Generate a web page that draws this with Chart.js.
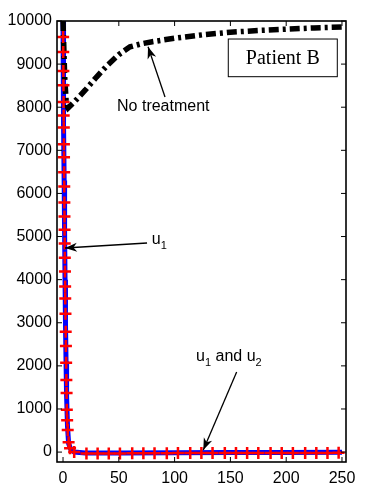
<!DOCTYPE html>
<html><head><meta charset="utf-8">
<script src="https://cdn.jsdelivr.net/npm/chart.js@4.4.0/dist/chart.umd.min.js"></script>
<style>html,body{margin:0;padding:0;background:#fff}canvas{display:block}</style>
</head><body>
<canvas id="c" width="370" height="500"></canvas>
<script>
// ---- data ----
const xTickVals = [0, 50, 100, 150, 200, 250];
const yTickVals = [0, 1000, 2000, 3000, 4000, 5000, 6000, 7000, 8000, 9000, 10000];

const noTreatX = [0, 1.5, 3, 4.5, 10, 20, 30, 40, 50, 60, 70, 80, 100, 125, 150, 175, 200, 225, 250];
const noTreatY = [10000, 8700, 8050, 7980, 8120, 8400, 8700, 8980, 9220, 9400, 9470, 9520, 9600, 9680, 9740, 9780, 9810, 9840, 9860];

const u1X = [0, 0.3, 0.6, 1.0, 1.4, 1.8, 2.2, 2.7, 3.2, 4, 5, 7, 10, 20, 50, 100, 150, 200, 250];
const u1Y = [10000, 8900, 7600, 6300, 5100, 4000, 3000, 2100, 1300, 600, 200, 60, 0, -20, -20, -15, -10, -10, -5];

const markX = [0.1, 0.2, 0.3, 0.4, 0.5, 0.6, 0.7, 0.8, 0.9, 1.0, 1.1, 1.2, 1.3, 1.4, 1.5, 1.6, 1.75, 1.9, 2.0, 2.2, 2.4, 2.6, 2.8, 3.0, 3.2, 3.4, 3.7, 4.2, 5, 6.3,
  10, 21, 31, 41, 51, 62, 72, 82, 93, 103, 114, 124, 134, 145, 155, 165, 175, 186, 196, 206, 217, 227, 237, 247];
const markY = [9630, 9280, 8840, 8510, 8120, 7810, 7530, 7140, 6840, 6490, 6160, 5790, 5465, 5160, 4840, 4510, 4190, 3840, 3560, 3210, 2790, 2460, 2070, 1670, 1370, 980, 740, 510, 230, 90,
  0, -30, -30, -30, -30, -25, -25, -25, -25, -20, -20, -20, -20, -20, -20, -20, -20, -20, -20, -20, -20, -20, -20, -15];

const xRange = [-5.4, 253.6];
const yRange = [-230, 10000];

const pts = (xs, ys) => xs.map((v, i) => ({x: v, y: ys[i]}));

// annotations in data units
const notes = {
  noTreat: {text: 'No treatment', x: 48.4, y: 8005, tail: [91.4, 8237], tip: [76.2, 9404]},
  u1: {x: 79.5, y: 4920, tail: [75.3, 4850], tip: [1.8, 4734]},
  u12: {x: 119.2, y: 2206, tail: [155.6, 1858], tip: [125.7, 48]},
  box: {text: 'Patient B', x1: 148.1, x2: 245.8, y1: 9582, y2: 8708}
};

const SANS = '"Liberation Sans", Arial, sans-serif';
const SERIF = '"Liberation Serif", "Times New Roman", serif';

function arrow(ctx, x0, y0, x1, y1) {
  ctx.beginPath(); ctx.moveTo(x0, y0); ctx.lineTo(x1, y1); ctx.stroke();
  const a = Math.atan2(y1 - y0, x1 - x0), L = 12, W = 4.5;
  const bx = x1 - L * Math.cos(a), by = y1 - L * Math.sin(a);
  const ix = x1 - 0.7 * L * Math.cos(a), iy = y1 - 0.7 * L * Math.sin(a);
  const nx = -Math.sin(a), ny = Math.cos(a);
  ctx.beginPath();
  ctx.moveTo(x1, y1);
  ctx.lineTo(bx + nx * W, by + ny * W);
  ctx.lineTo(ix, iy);
  ctx.lineTo(bx - nx * W, by - ny * W);
  ctx.closePath(); ctx.fill();
}

const overlay = {
  id: 'overlay',
  afterDatasetsDraw(chart) {
    const {ctx, chartArea: a, scales: {x, y}} = chart;
    ctx.save();
    ctx.strokeStyle = '#000'; ctx.fillStyle = '#000';
    ctx.lineWidth = 1;
    const seg = (x0, y0, x1, y1) => { ctx.beginPath(); ctx.moveTo(x0, y0); ctx.lineTo(x1, y1); ctx.stroke(); };
    xTickVals.forEach(v => { const p = x.getPixelForValue(v); seg(p, a.bottom, p, a.bottom - 5); seg(p, a.top, p, a.top + 5); });
    yTickVals.forEach(v => { const p = y.getPixelForValue(v); seg(a.left, p, a.left + 5, p); seg(a.right, p, a.right - 5, p); });
    ctx.lineWidth = 1.6;
    ctx.strokeRect(a.left, a.top, a.right - a.left, a.bottom - a.top);

    // arrows
    ctx.lineWidth = 1.3;
    [notes.noTreat, notes.u1, notes.u12].forEach(n => {
      arrow(ctx, x.getPixelForValue(n.tail[0]), y.getPixelForValue(n.tail[1]),
                 x.getPixelForValue(n.tip[0]), y.getPixelForValue(n.tip[1]));
    });

    // texts
    ctx.textBaseline = 'middle'; ctx.textAlign = 'left';
    ctx.font = '16px ' + SANS;
    ctx.fillText(notes.noTreat.text, x.getPixelForValue(notes.noTreat.x), y.getPixelForValue(notes.noTreat.y));

    const sub = (parts, px, py) => {
      let cx = px;
      parts.forEach(([t, s]) => {
        ctx.font = (s ? '11px ' : '16px ') + SANS;
        ctx.fillText(t, cx, py + (s ? 6 : 0));
        cx += ctx.measureText(t).width;
      });
    };
    sub([['u', 0], ['1', 1]], x.getPixelForValue(notes.u1.x), y.getPixelForValue(notes.u1.y));
    sub([['u', 0], ['1', 1], [' and u', 0], ['2', 1]], x.getPixelForValue(notes.u12.x), y.getPixelForValue(notes.u12.y));

    // Patient B box
    const b = notes.box;
    const bx1 = x.getPixelForValue(b.x1), bx2 = x.getPixelForValue(b.x2);
    const by1 = y.getPixelForValue(b.y1), by2 = y.getPixelForValue(b.y2);
    ctx.fillStyle = '#fff'; ctx.fillRect(bx1, by1, bx2 - bx1, by2 - by1);
    ctx.lineWidth = 1; ctx.strokeRect(bx1, by1, bx2 - bx1, by2 - by1);
    ctx.fillStyle = '#000';
    ctx.font = '20px ' + SERIF; ctx.textAlign = 'center';
    ctx.fillText(b.text, (bx1 + bx2) / 2, (by1 + by2) / 2 + 1);
    ctx.restore();
  }
};

new Chart(document.getElementById('c'), {
  type: 'scatter',
  data: {
    datasets: [
      {label: 'markers', data: pts(markX, markY), showLine: false, pointStyle: 'cross',
       pointRadius: 6, pointHoverRadius: 6, pointBorderWidth: 2.5, borderColor: '#ff0000', backgroundColor: '#ff0000', order: 0},
      {label: 'No treatment', data: pts(noTreatX, noTreatY), showLine: true, borderColor: '#000', borderWidth: 5.5,
       borderDash: [10, 4, 3, 4], pointRadius: 0, tension: 0, order: 1},
      {label: 'u1', data: pts(u1X, u1Y), showLine: true, borderColor: '#0000ff', borderWidth: 5, pointRadius: 0, tension: 0, order: 2}
    ]
  },
  options: {
    responsive: false, devicePixelRatio: 1, animation: false,
    layout: {padding: {top: 21, right: 24, left: 0, bottom: 0}},
    plugins: {legend: {display: false}, tooltip: {enabled: false}},
    scales: {
      x: {type: 'linear', position: 'bottom', min: xRange[0], max: xRange[1],
          grid: {display: false, drawTicks: false, tickLength: 0}, border: {display: false},
          afterBuildTicks: s => { s.ticks = xTickVals.map(v => ({value: v})); },
          afterFit: s => { s.height = 38; },
          ticks: {padding: 7, color: '#000', font: {family: SANS, size: 16}, callback: v => String(v), maxRotation: 0}},
      y: {type: 'linear', min: yRange[0], max: yRange[1],
          grid: {display: false, drawTicks: false, tickLength: 0}, border: {display: false},
          afterBuildTicks: s => { s.ticks = yTickVals.map(v => ({value: v})); },
          afterFit: s => { s.width = 57; },
          ticks: {padding: 5, color: '#000', font: {family: SANS, size: 16}, callback: v => String(v)}}
    }
  },
  plugins: [overlay]
});
</script>
</body></html>
